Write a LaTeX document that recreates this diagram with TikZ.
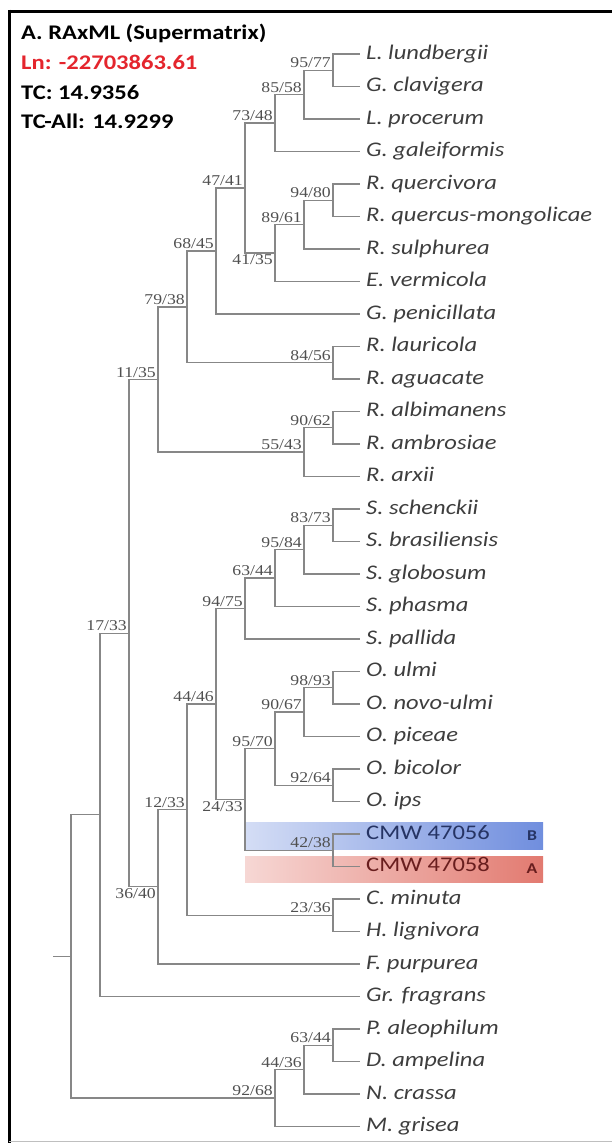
\documentclass[tikz,border=0pt]{standalone}
\usepackage{fontspec}
\setmainfont{Carlito}[FakeStretch=1.18]
\newfontfamily\suppfont{Liberation Serif}[FakeStretch=1.18]
\usepackage{xcolor}
\usepackage{tikz}
\usetikzlibrary{positioning}

\definecolor{branchgray}{RGB}{135,135,135}
\definecolor{leafgray}{RGB}{62,62,62}
\definecolor{suppgray}{RGB}{80,80,80}
\definecolor{lnred}{RGB}{228,37,45}
\definecolor{cmwblue}{RGB}{38,52,100}
\definecolor{cmwred}{RGB}{105,30,30}
\definecolor{barblue}{RGB}{112,142,222}
\definecolor{barred}{RGB}{226,122,112}

\begin{document}
\begin{tikzpicture}[x=1pt, y=-1pt,
  every node/.style={inner sep=0pt},
  branch/.style={draw=branchgray, line width=1.3pt},
  leaf/.style={anchor=west, inner xsep=6pt, text height=14pt, text depth=4pt,
    text=leafgray, font=\fontsize{20.8}{24}\selectfont\itshape},
  strain/.style={leaf, font=\fontsize{20.8}{24}\selectfont},
  supp/.style={anchor=base east, xshift=-2pt, yshift=2.5pt, text=suppgray,
    font=\suppfont\fontsize{15}{17}\selectfont},
  suppbelow/.style={supp, anchor=north east, yshift=-4pt},
  head/.style={anchor=west, font=\fontsize{20.8}{24}\selectfont\bfseries},
  tag/.style={font=\fontsize{15}{17}\selectfont\bfseries}]
  \useasboundingbox (0,0) rectangle (612,1143);

  % frame
  \draw[line width=3pt] (8,11) -- (612,11);
  \draw[line width=3pt] (9,9.5) -- (9,1143);
  \draw[black!25, line width=1pt] (9,1141) -- (612,1141);

  % header
  \node[head] (title) at (21,33) {A. RAxML (Supermatrix)};
  \node[head, text=lnred] (lnval) at (21,62) {Ln: -22703863.61};
  \node[head] (tcval) at (21,92) {TC: 14.9356};
  \node[head] (tcall) at (21,121) {TC-All: 14.9299};

  % highlighted strains
  \fill[left color=barblue!30, right color=barblue] (245,822) rectangle (543,849);
  \fill[left color=barred!30, right color=barred] (245,856) rectangle (543,882);
  \node[tag, text=cmwblue] (tagB) at (532,835.5) {B};
  \node[tag, text=cmwred] (tagA) at (532,869) {A};

  % tips
  \node[leaf] (lund) at (360,54) {L. lundbergii};
  \node[leaf] (clav) at (360,86.5) {G. clavigera};
  \node[leaf] (proc) at (360,119) {L. procerum};
  \node[leaf] (gale) at (360,151.5) {G. galeiformis};
  \node[leaf] (querc) at (360,184) {R. quercivora};
  \node[leaf] (qmong) at (360,216.5) {R. quercus-mongolicae};
  \node[leaf] (sulph) at (360,249) {R. sulphurea};
  \node[leaf] (verm) at (360,281.5) {E. vermicola};
  \node[leaf] (penic) at (360,314) {G. penicillata};
  \node[leaf] (laur) at (360,346.5) {R. lauricola};
  \node[leaf] (aguac) at (360,379) {R. aguacate};
  \node[leaf] (albim) at (360,411.5) {R. albimanens};
  \node[leaf] (ambro) at (360,444) {R. ambrosiae};
  \node[leaf] (arxii) at (360,476.5) {R. arxii};
  \node[leaf] (schen) at (360,509) {S. schenckii};
  \node[leaf] (brasi) at (360,541.5) {S. brasiliensis};
  \node[leaf] (globo) at (360,574) {S. globosum};
  \node[leaf] (phasm) at (360,606.5) {S. phasma};
  \node[leaf] (palli) at (360,639) {S. pallida};
  \node[leaf] (ulmi) at (360,671.5) {O. ulmi};
  \node[leaf] (novo) at (360,704) {O. novo-ulmi};
  \node[leaf] (picea) at (360,736.5) {O. piceae};
  \node[leaf] (bicol) at (360,769) {O. bicolor};
  \node[leaf] (ips) at (360,801.5) {O. ips};
  \node[strain, text=cmwblue] (cmw56) at (360,834) {CMW 47056};
  \node[strain, text=cmwred] (cmw58) at (360,866.5) {CMW 47058};
  \node[leaf] (minut) at (360,899) {C. minuta};
  \node[leaf] (ligni) at (360,931.5) {H. lignivora};
  \node[leaf] (purpu) at (360,964) {F. purpurea};
  \node[leaf] (fragr) at (360,996.5) {Gr. fragrans};
  \node[leaf] (aleop) at (360,1029) {P. aleophilum};
  \node[leaf] (ampel) at (360,1061.5) {D. ampelina};
  \node[leaf] (crass) at (360,1094) {N. crassa};
  \node[leaf] (grise) at (360,1126.5) {M. grisea};

  % internal nodes
  \coordinate (c9577) at (333,70.3);
  \coordinate (c8558) at (304,94.6);
  \coordinate (c7348) at (275,123.1);
  \coordinate (c9480) at (333,200.3);
  \coordinate (c8961) at (304,224.6);
  \coordinate (c4135) at (275,253.1);
  \coordinate (c4741) at (245,188.1);
  \coordinate (c6845) at (216,251.0);
  \coordinate (c8456) at (333,362.8);
  \coordinate (c7938) at (187,306.9);
  \coordinate (c9062) at (333,427.8);
  \coordinate (c5543) at (304,452.1);
  \coordinate (c1135) at (158,379.5);
  \coordinate (c8373) at (333,525.3);
  \coordinate (c9584) at (304,549.6);
  \coordinate (c6344) at (275,578.1);
  \coordinate (c9475) at (245,608.5);
  \coordinate (c9893) at (333,687.8);
  \coordinate (c9067) at (304,712.1);
  \coordinate (c9264) at (333,785.3);
  \coordinate (c9570) at (275,748.7);
  \coordinate (c4238) at (333,850.3);
  \coordinate (c2433) at (245,799.5);
  \coordinate (c4446) at (216,704.0);
  \coordinate (c2336) at (333,915.3);
  \coordinate (c1233) at (187,809.6);
  \coordinate (c3640) at (158,886.8);
  \coordinate (c1733) at (129,633.2);
  \coordinate (cingr) at (100,814.8);
  \coordinate (c6344o) at (333,1045.3);
  \coordinate (c4436) at (304,1069.6);
  \coordinate (c9268) at (275,1098.0);
  \coordinate (croot) at (71,956.4);
  \coordinate (cstub) at (53,956.4);

  % branches
  \draw[branch] (c9577) |- (lund.west) (c9577) |- (clav.west);
  \draw[branch] (c8558) |- (c9577) (c8558) |- (proc.west);
  \draw[branch] (c7348) |- (c8558) (c7348) |- (gale.west);
  \draw[branch] (c9480) |- (querc.west) (c9480) |- (qmong.west);
  \draw[branch] (c8961) |- (c9480) (c8961) |- (sulph.west);
  \draw[branch] (c4135) |- (c8961) (c4135) |- (verm.west);
  \draw[branch] (c4741) |- (c7348) (c4741) |- (c4135);
  \draw[branch] (c6845) |- (c4741) (c6845) |- (penic.west);
  \draw[branch] (c8456) |- (laur.west) (c8456) |- (aguac.west);
  \draw[branch] (c7938) |- (c6845) (c7938) |- (c8456);
  \draw[branch] (c9062) |- (albim.west) (c9062) |- (ambro.west);
  \draw[branch] (c5543) |- (c9062) (c5543) |- (arxii.west);
  \draw[branch] (c1135) |- (c7938) (c1135) |- (c5543);
  \draw[branch] (c8373) |- (schen.west) (c8373) |- (brasi.west);
  \draw[branch] (c9584) |- (c8373) (c9584) |- (globo.west);
  \draw[branch] (c6344) |- (c9584) (c6344) |- (phasm.west);
  \draw[branch] (c9475) |- (c6344) (c9475) |- (palli.west);
  \draw[branch] (c9893) |- (ulmi.west) (c9893) |- (novo.west);
  \draw[branch] (c9067) |- (c9893) (c9067) |- (picea.west);
  \draw[branch] (c9264) |- (bicol.west) (c9264) |- (ips.west);
  \draw[branch] (c9570) |- (c9067) (c9570) |- (c9264);
  \draw[branch] (c4238) |- (cmw56.west) (c4238) |- (cmw58.west);
  \draw[branch] (c2433) |- (c9570) (c2433) |- (c4238);
  \draw[branch] (c4446) |- (c9475) (c4446) |- (c2433);
  \draw[branch] (c2336) |- (minut.west) (c2336) |- (ligni.west);
  \draw[branch] (c1233) |- (c4446) (c1233) |- (c2336);
  \draw[branch] (c3640) |- (c1233) (c3640) |- (purpu.west);
  \draw[branch] (c1733) |- (c1135) (c1733) |- (c3640);
  \draw[branch] (cingr) |- (c1733) (cingr) |- (fragr.west);
  \draw[branch] (c6344o) |- (aleop.west) (c6344o) |- (ampel.west);
  \draw[branch] (c4436) |- (c6344o) (c4436) |- (crass.west);
  \draw[branch] (c9268) |- (c4436) (c9268) |- (grise.west);
  \draw[branch] (croot) |- (cingr) (croot) |- (c9268);
  \draw[branch] (croot) -- (cstub);

  % support values
  \node[supp] (l9577) at (c9577) {95/77};
  \node[supp] (l8558) at (c8558) {85/58};
  \node[supp] (l7348) at (c7348) {73/48};
  \node[supp] (l9480) at (c9480) {94/80};
  \node[supp] (l8961) at (c8961) {89/61};
  \node[suppbelow] (l4135) at (c4135) {41/35};
  \node[supp] (l4741) at (c4741) {47/41};
  \node[supp] (l6845) at (c6845) {68/45};
  \node[supp] (l8456) at (c8456) {84/56};
  \node[supp] (l7938) at (c7938) {79/38};
  \node[supp] (l9062) at (c9062) {90/62};
  \node[supp] (l5543) at (c5543) {55/43};
  \node[supp] (l1135) at (c1135) {11/35};
  \node[supp] (l8373) at (c8373) {83/73};
  \node[supp] (l9584) at (c9584) {95/84};
  \node[supp] (l6344) at (c6344) {63/44};
  \node[supp] (l9475) at (c9475) {94/75};
  \node[supp] (l9893) at (c9893) {98/93};
  \node[supp] (l9067) at (c9067) {90/67};
  \node[supp] (l9264) at (c9264) {92/64};
  \node[supp] (l9570) at (c9570) {95/70};
  \node[supp] (l4238) at (c4238) {42/38};
  \node[suppbelow] (l2433) at (c2433) {24/33};
  \node[supp] (l4446) at (c4446) {44/46};
  \node[supp] (l2336) at (c2336) {23/36};
  \node[supp] (l1233) at (c1233) {12/33};
  \node[suppbelow] (l3640) at (c3640) {36/40};
  \node[supp] (l1733) at (c1733) {17/33};
  \node[supp] (l6344o) at (c6344o) {63/44};
  \node[supp] (l4436) at (c4436) {44/36};
  \node[supp] (l9268) at (c9268) {92/68};
\end{tikzpicture}
\end{document}
